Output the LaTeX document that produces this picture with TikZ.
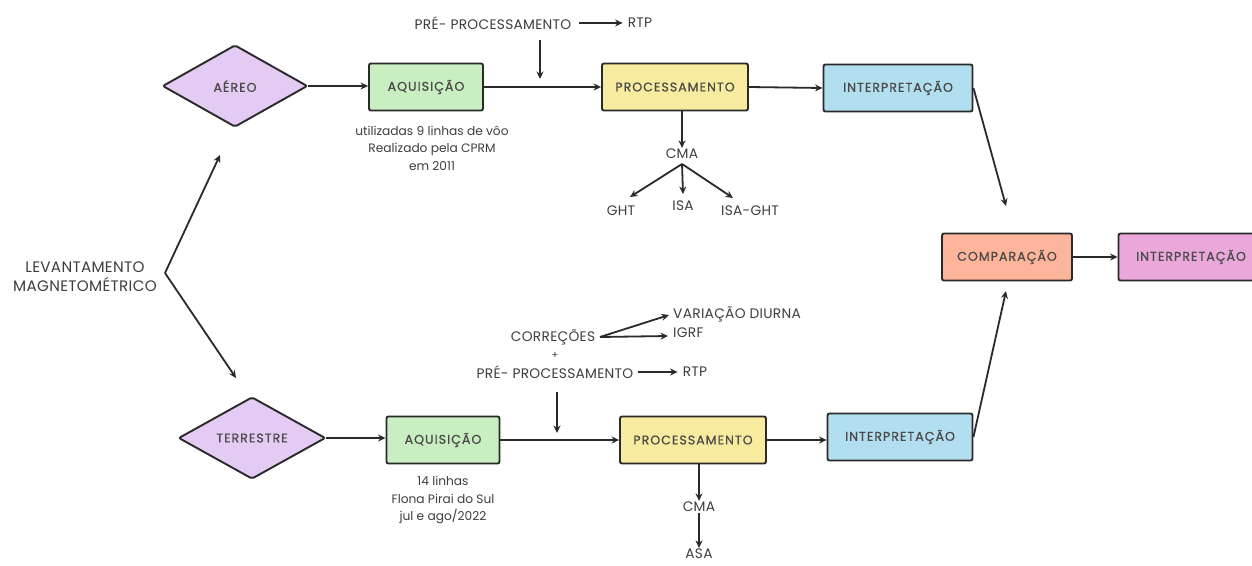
\documentclass[tikz,border=0pt]{standalone}
\usepackage{fontspec}
\setmainfont{Poppins}
\newfontfamily\boxfont[LetterSpace=8,FakeBold=0.7]{Poppins}
\newfontfamily\lblfont[LetterSpace=2]{Poppins}
\usetikzlibrary{shapes.geometric,arrows.meta}
\definecolor{lilac}{HTML}{E3CBF3}
\definecolor{mint}{HTML}{C8EEC2}
\definecolor{butter}{HTML}{F6EB9F}
\definecolor{sky}{HTML}{B2DFEF}
\definecolor{salmon}{HTML}{FCB49A}
\definecolor{orchid}{HTML}{E9A7DA}
\definecolor{ink}{HTML}{2A2A2A}
\definecolor{txt}{HTML}{3E3E3E}
\definecolor{btxt}{HTML}{4C4A48}
\tikzset{
  procbox/.style={draw=ink, line width=1.9pt, rounded corners=2pt, minimum height=47pt, inner sep=0pt, font=\boxfont\fontsize{12.6}{14}\selectfont, text=btxt},
  dia/.style={draw=ink, line width=1.9pt, diamond, fill=lilac, rounded corners=2pt, inner sep=0pt, font=\boxfont\fontsize{12.6}{14}\selectfont, text=btxt},
  lbl/.style={font=\lblfont\fontsize{13.8}{16}\selectfont, text=txt, inner sep=1pt},
  note/.style={font=\fontsize{12.2}{17.5}\selectfont, text=txt, align=center, inner sep=0pt},
  arr/.style={draw=ink, line width=1.8pt, -{Stealth[length=7.5pt,width=7pt]}},
}
\begin{document}
\begin{tikzpicture}[x=1pt,y=-1pt]
\useasboundingbox (0,0) rectangle (1252,565);
\fill[white] (0,0) rectangle (1252,565);
% left
\node[lbl, align=center, font=\lblfont\fontsize{15.2}{19}\selectfont] (lev) at (85,277) {LEVANTAMENTO\\MAGNETOMÉTRICO};
\coordinate (br) at (165,273);
\coordinate (upend) at (220,155);
\coordinate (dnend) at (236,378);
\draw[arr] (br) -- (upend);
\draw[arr] (br) -- (dnend);
% top row
\node[dia, minimum width=145pt, minimum height=82pt] (aereo) at (235,86) {AÉREO};
\node[procbox, fill=mint, minimum width=114pt] (aq1) at (426,87) {AQUISIÇÃO};
\node[procbox, fill=butter, minimum width=146pt] (proc1) at (675,87) {PROCESSAMENTO};
\node[procbox, fill=sky, minimum width=149pt] (int1) at (898,88) {INTERPRETAÇÃO};
\node[lbl] (pre1) at (493,23) {PRÉ- PROCESSAMENTO};
\node[lbl] (rtp1) at (640,23) {RTP};
\coordinate (d1a) at (540,40);
\coordinate (d1b) at (540,79);
\node[note] (note1) at (432,148) {utilizadas 9 linhas de vôo\\Realizado pela CPRM\\em 2011};
\node[lbl] (cma1) at (682,154) {CMA};
\node[lbl] (ght) at (621,211) {GHT};
\node[lbl] (isa) at (683,206) {ISA};
\node[lbl] (isaght) at (750,211) {ISA-GHT};
\draw[arr] (aereo.east) -- (aq1.west |- aereo.east);
\draw[arr] (aq1.east) -- (proc1.west);
\draw[arr] (proc1.east) -- (int1.west);
\draw[arr] ([xshift=6pt]pre1.east) -- ([xshift=-4pt]rtp1.west);
\draw[arr] (d1a) -- (d1b);
\draw[arr] (proc1.south -| cma1) -- (cma1.north);
\coordinate (cb1) at (682,164);
\draw[arr] (cb1) -- (630,197);
\draw[arr] (cb1) -- (683,194);
\draw[arr] (cb1) -- (733,198);
\coordinate (t1end) at (1006,206);
\draw[arr] (int1.east) -- (t1end);
% comparison
\node[procbox, fill=salmon, minimum width=130pt] (comp) at (1007,257) {COMPARAÇÃO};
\node[procbox, fill=orchid, minimum width=145pt] (int3) at (1191,257) {INTERPRETAÇÃO};
\draw[arr] (comp.east) -- (int3.west);
% bottom row
\node[dia, minimum width=147pt, minimum height=82pt] (terr) at (252,438) {TERRESTRE};
\node[procbox, fill=mint, minimum width=113pt] (aq2) at (443,440) {AQUISIÇÃO};
\node[procbox, fill=butter, minimum width=146pt] (proc2) at (693,440) {PROCESSAMENTO};
\node[procbox, fill=sky, minimum width=145pt] (int2) at (900,437) {INTERPRETAÇÃO};
\node[note] (note2) at (443,500) {14 linhas\\Flona Pirai do Sul\\jul e ago/2022};
\node[lbl] (corr) at (553,337) {CORREÇÕES};
\node[lbl, font=\fontsize{10}{11}\selectfont] (plus) at (555,355) {+};
\node[lbl] (pre2) at (555,372) {PRÉ- PROCESSAMENTO};
\node[lbl] (rtp2) at (695,372) {RTP};
\node[lbl, anchor=west] (var) at (672,314) {VARIAÇÃO DIURNA};
\node[lbl, anchor=west] (igrf) at (672,333) {IGRF};
\coordinate (d2a) at (557,392);
\coordinate (d2b) at (557,433);
\node[lbl] (cma2) at (699,507) {CMA};
\node[lbl] (asa) at (699,554) {ASA};
\draw[arr] (terr.east) -- (aq2.west |- terr.east);
\draw[arr] (aq2.east) -- (proc2.west);
\draw[arr] (proc2.east) -- (int2.west |- proc2.east);
\draw[arr] (d2a) -- (d2b);
\draw[arr] ([xshift=3pt]pre2.east) -- ([xshift=-4pt]rtp2.west);
\coordinate (cr) at (600,337);
\draw[arr] (cr) -- (669,315);
\draw[arr] (cr) -- (668,336);
\draw[arr] (proc2.south -| cma2) -- (cma2.north);
\draw[arr] (cma2.south) -- (asa.north);
\coordinate (t2end) at (1006,291);
\draw[arr] (int2.east) -- (t2end);
\end{tikzpicture}
\end{document}
